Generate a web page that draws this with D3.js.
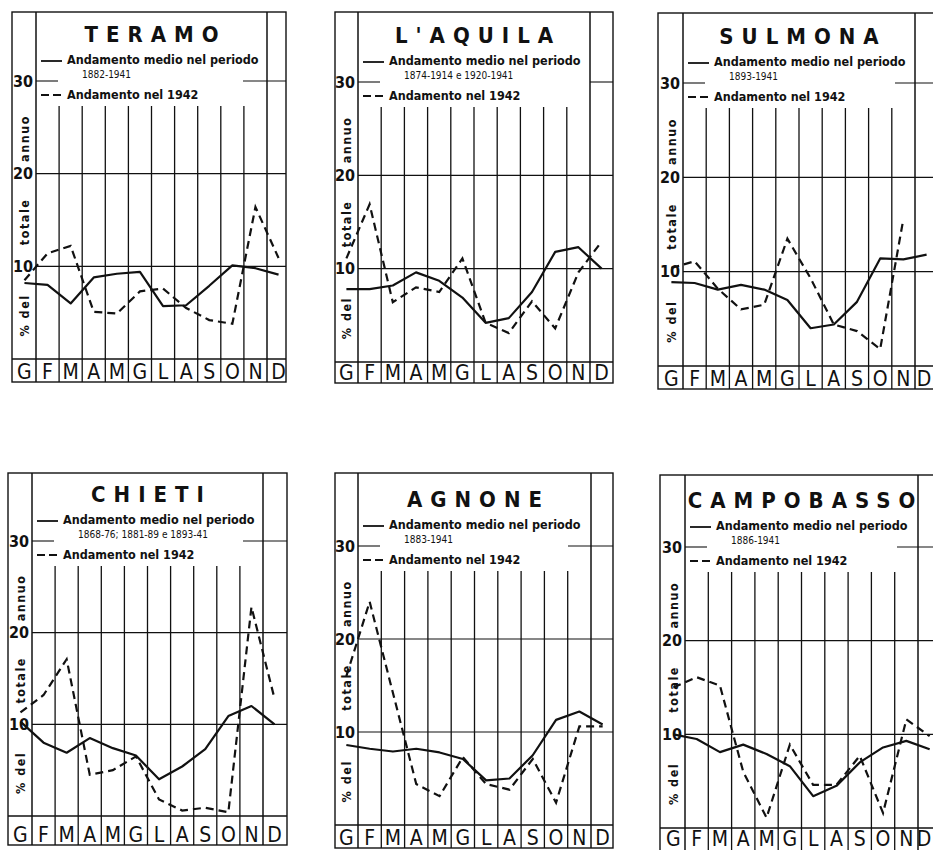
<!DOCTYPE html>
<html>
<head>
<meta charset="utf-8">
<script src="https://cdn.jsdelivr.net/npm/d3@7"></script>
<style>
  html, body { margin: 0; padding: 0; background: #fff; }
  svg { display: block; }
  text { fill: #111; }
</style>
</head>
<body>
<svg id="chart" width="933" height="850"></svg>
<script>
// ---------------- DATA ----------------
const monthLabels = ["G","F","M","A","M","G","L","A","S","O","N","D"];
const yTicks = [10, 20, 30];
const cities = ["TERAMO", "L'AQUILA", "SULMONA", "CHIETI", "AGNONE", "CAMPOBASSO"];
const periods = ["1882-1941", "1874-1914 e 1920-1941", "1893-1941",
                 "1868-76; 1881-89 e 1893-41", "1883-1941", "1886-1941"];
const legendMean = "Andamento medio nel periodo";
const legend1942 = "Andamento nel 1942";
const axisTitleWords = ["% del", "totale", "annuo"];

const teramoMean     = [8.2, 8.0, 6.0, 8.8, 9.2, 9.4, 5.7, 5.8, 7.9, 10.1, 9.8, 9.1];
const teramo1942     = [8.5, 11.4, 12.2, 5.1, 4.9, 7.3, 7.6, 5.5, 4.2, 3.8, 16.4, 10.9];
const aquilaMean     = [7.8, 7.8, 8.2, 9.6, 8.7, 6.9, 4.2, 4.7, 7.5, 11.8, 12.3, 10.0];
const aquila1942     = [11.1, 16.9, 6.4, 8.0, 7.5, 11.1, 4.2, 3.1, 6.5, 3.6, 9.6, 12.9];
const sulmonaMean    = [8.9, 8.8, 8.1, 8.6, 8.1, 7.0, 4.0, 4.4, 6.8, 11.4, 11.3, 11.8];
const sulmona1942    = [10.4, 11.1, 8.2, 6.0, 6.5, 13.5, 9.3, 4.4, 3.7, 1.8, 15.6, null];
const chietiMean     = [10.3, 8.0, 6.9, 8.5, 7.4, 6.6, 4.0, 5.4, 7.3, 10.9, 12.0, 10.0];
const chieti1942     = [11.3, 13.2, 17.1, 4.5, 5.0, 6.5, 1.8, 0.6, 0.9, 0.4, 22.8, 12.8];
const agnoneMean     = [8.6, 8.2, 7.9, 8.2, 7.8, 7.1, 4.8, 5.0, 7.5, 11.3, 12.2, 10.8];
const agnone1942     = [16.0, 24.0, 14.2, 4.4, 3.1, 7.3, 4.4, 3.8, 7.1, 2.4, 10.6, 10.6];
const campobassoMean = [10.0, 9.5, 8.1, 8.9, 7.9, 6.6, 3.4, 4.5, 7.0, 8.6, 9.3, 8.4];
const campobasso1942 = [15.0, 16.1, 15.2, 6.0, 1.1, 8.9, 4.6, 4.6, 7.7, 1.6, 11.6, 9.8];

const meanSeries = [teramoMean, aquilaMean, sulmonaMean, chietiMean, agnoneMean, campobassoMean];
const series1942 = [teramo1942, aquila1942, sulmona1942, chieti1942, agnone1942, campobasso1942];

// ---------------- LAYOUT (per panel frame geometry) ----------------
const layout = [
  { frameL: 12,  frameT: 12,  axisX: 36,  ndX: 267, frameR: 286, y30: 81,  y0: 359, rowB: 382, gapEnd: -24 },
  { frameL: 335, frameT: 12,  axisX: 358, ndX: 590, frameR: 613, y30: 82,  y0: 362, rowB: 383, gapEnd: 0 },
  { frameL: 658, frameT: 13,  axisX: 683, ndX: 915, frameR: 938, y30: 83,  y0: 366, rowB: 389, gapEnd: -20 },
  { frameL: 8,   frameT: 473, axisX: 32,  ndX: 263, frameR: 287, y30: 541, y0: 816, rowB: 845, gapEnd: -20 },
  { frameL: 335, frameT: 473, axisX: 358, ndX: 591, frameR: 613, y30: 546, y0: 825, rowB: 848, gapEnd: -23 },
  { frameL: 660, frameT: 475, axisX: 685, ndX: 918, frameR: 940, y30: 547, y0: 828, rowB: 851, gapEnd: -21 }
];

const svg = d3.select("#chart");
const FONT = "'DejaVu Sans Condensed', 'DejaVu Sans', sans-serif";

cities.forEach((city, p) => {
  const L = layout[p];
  const g = svg.append("g");
  const colW = (L.ndX - L.axisX) / 10;
  const x = d3.scaleBand().domain(d3.range(12))
    .range([L.axisX - colW, L.axisX + 11 * colW]).padding(0);
  const y = d3.scaleLinear().domain([0, 30]).range([L.y0, L.y30]);

  const stroke = "#111";

  // Frame
  g.append("rect")
    .attr("x", L.frameL).attr("y", L.frameT)
    .attr("width", L.frameR - L.frameL).attr("height", L.rowB - L.frameT)
    .attr("fill", "none").attr("stroke", stroke).attr("stroke-width", 1.4);
  // label row top (zero line)
  g.append("line")
    .attr("x1", L.frameL).attr("x2", L.frameR)
    .attr("y1", y(0)).attr("y2", y(0))
    .attr("stroke", stroke).attr("stroke-width", 1.3);

  // Horizontal gridlines
  yTicks.forEach(t => {
    if (t === 30) {
      g.append("line").attr("x1", L.axisX).attr("x2", L.axisX + 22)
        .attr("y1", y(t)).attr("y2", y(t)).attr("stroke", stroke).attr("stroke-width", 1.1);
      g.append("line").attr("x1", L.ndX + L.gapEnd).attr("x2", L.frameR)
        .attr("y1", y(t)).attr("y2", y(t)).attr("stroke", stroke).attr("stroke-width", 1.1);
    } else {
      g.append("line").attr("x1", L.axisX).attr("x2", L.frameR)
        .attr("y1", y(t)).attr("y2", y(t)).attr("stroke", stroke).attr("stroke-width", 1.1);
    }
  });

  // Vertical column lines
  d3.range(1, 12).forEach(i => {
    const full = (i === 1 || i === 11);
    g.append("line")
      .attr("x1", x(i)).attr("x2", x(i))
      .attr("y1", full ? L.frameT : y(30) + 25)
      .attr("y2", L.rowB)
      .attr("stroke", stroke).attr("stroke-width", full ? 1.5 : 1.3);
  });

  // Y tick labels via axis
  const yAxis = d3.axisLeft(y).tickValues(yTicks).tickSize(0).tickPadding(3)
    .tickFormat(d3.format("d"));
  const ax = g.append("g").attr("transform", `translate(${L.axisX},0)`).call(yAxis);
  ax.select(".domain").remove();
  ax.selectAll("text")
    .attr("font-family", FONT).attr("font-size", 16).attr("font-weight", "bold")
    .attr("fill", "#111");

  // Y axis title words (rotated)
  const titlePos = [4.7, 14.8, 23.8];
  axisTitleWords.forEach((w, k) => {
    g.append("text")
      .attr("transform", `translate(${L.axisX - 11},${y(titlePos[k])}) rotate(-90)`)
      .attr("text-anchor", "middle").attr("dy", "0.35em")
      .attr("font-family", FONT).attr("font-size", 12.5).attr("font-weight", "bold")
      .attr("letter-spacing", 1.5)
      .text(w);
  });

  // Month labels
  const labelY = Math.min(L.rowB - 3.5, 846);
  monthLabels.forEach((m, i) => {
    g.append("text")
      .attr("x", Math.min(x(i) + x.bandwidth() / 2, 924))
      .attr("y", labelY)
      .attr("text-anchor", "middle")
      .attr("font-family", FONT).attr("font-size", 21)
      .text(m);
  });

  // Title
  g.append("text")
    .attr("x", (L.axisX + L.ndX) / 2 + 4)
    .attr("y", y(30) - 39)
    .attr("text-anchor", "middle")
    .attr("font-family", FONT).attr("font-size", 22).attr("font-weight", "bold")
    .attr("letter-spacing", 8)
    .text(city);

  // Legend
  g.append("line").attr("x1", L.axisX + 5).attr("x2", L.axisX + 26)
    .attr("y1", y(30) - 20).attr("y2", y(30) - 20)
    .attr("stroke", stroke).attr("stroke-width", 1.8);
  g.append("text").attr("x", L.axisX + 31).attr("y", y(30) - 17)
    .attr("font-family", FONT).attr("font-size", 12.5).attr("font-weight", "bold")
    .text(legendMean);
  g.append("text").attr("x", L.axisX + 46).attr("y", y(30) - 3)
    .attr("font-family", FONT).attr("font-size", 10)
    .text(periods[p]);
  g.append("line").attr("x1", L.axisX + 5).attr("x2", L.axisX + 26)
    .attr("y1", y(30) + 14).attr("y2", y(30) + 14)
    .attr("stroke", stroke).attr("stroke-width", 1.8).attr("stroke-dasharray", "8,4");
  g.append("text").attr("x", L.axisX + 31).attr("y", y(30) + 18)
    .attr("font-family", FONT).attr("font-size", 12.5).attr("font-weight", "bold")
    .text(legend1942);

  // Data lines
  const line = d3.line()
    .defined(d => d != null)
    .x((d, i) => x(i) + x.bandwidth() / 2)
    .y(d => y(d));

  g.append("path").datum(meanSeries[p])
    .attr("d", line).attr("fill", "none")
    .attr("stroke", stroke).attr("stroke-width", 2.2).attr("stroke-linejoin", "round");
  g.append("path").datum(series1942[p])
    .attr("d", line).attr("fill", "none")
    .attr("stroke", stroke).attr("stroke-width", 2.2)
    .attr("stroke-dasharray", "8,5");
});
</script>
</body>
</html>
